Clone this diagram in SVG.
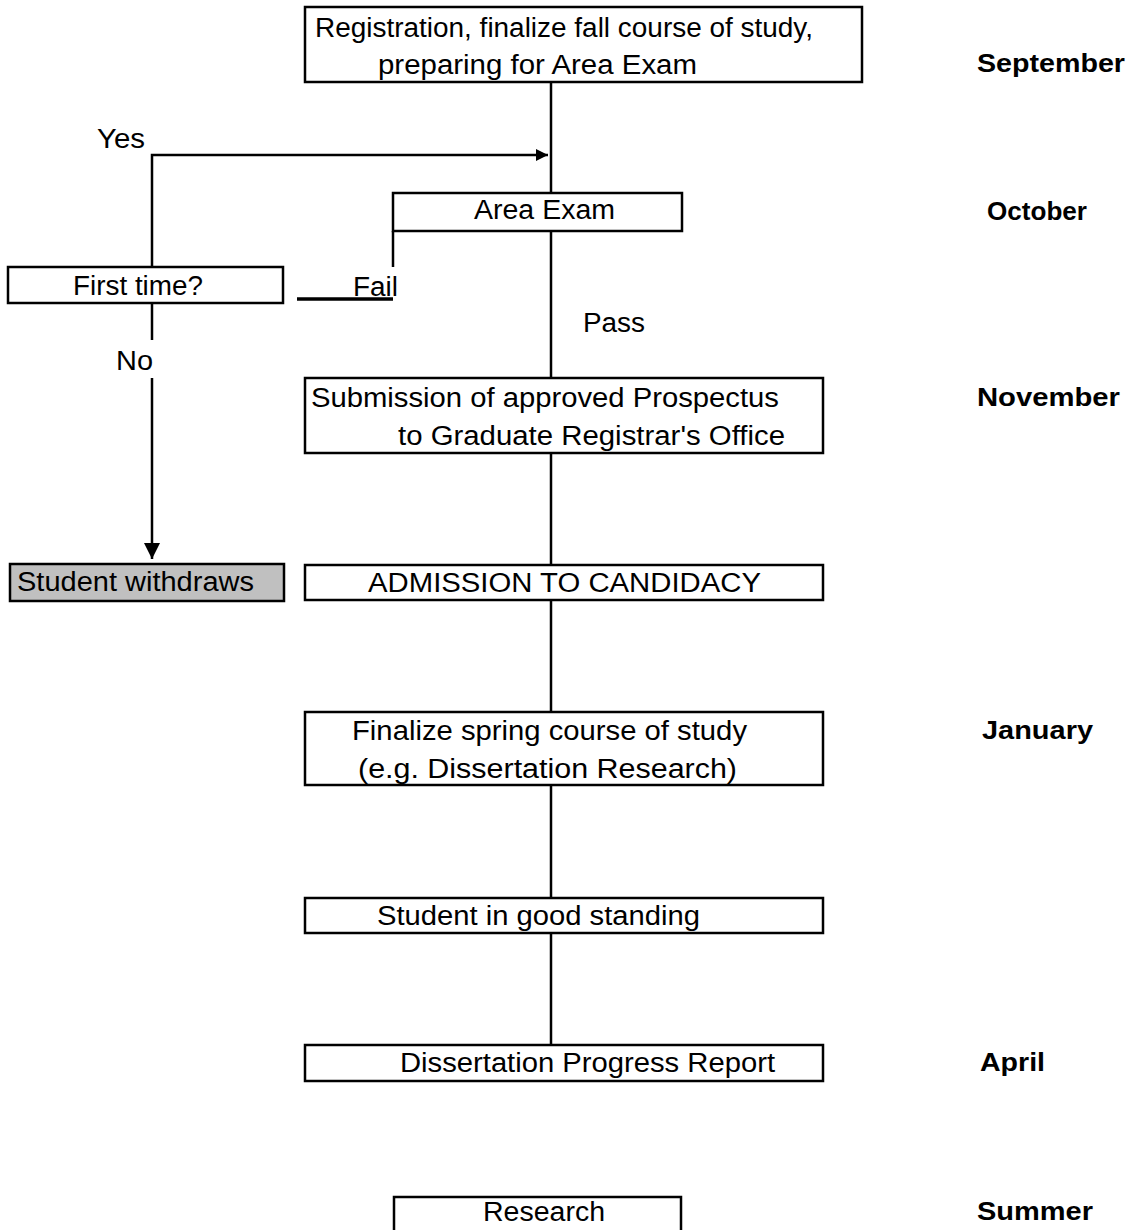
<svg xmlns="http://www.w3.org/2000/svg" width="1135" height="1230" viewBox="0 0 1135 1230">
<defs>
<style>
.box{fill:#fff;stroke:#000;stroke-width:2.5}
.gray{fill:#c0c0c0;stroke:#000;stroke-width:2.5}
.t{font-family:"Liberation Sans",Arial,sans-serif;font-size:27px;fill:#000}
.m{font-family:"Liberation Sans",Arial,sans-serif;font-size:26px;font-weight:bold;fill:#000}
.ln{stroke:#000;stroke-width:2.5;fill:none}
</style>
<marker id="ah" viewBox="0 0 10 10" refX="10" refY="5" markerUnits="userSpaceOnUse" markerWidth="18" markerHeight="12" orient="auto">
<path d="M0,0 L10,5 L0,10 Z" fill="#000"/>
</marker>
<marker id="ad" viewBox="0 0 10 10" refX="10" refY="5" markerUnits="userSpaceOnUse" markerWidth="16" markerHeight="17" orient="auto">
<path d="M0,0 L10,5 L0,10 Z" fill="#000"/>
</marker>
</defs>
<rect width="1135" height="1230" fill="#fff"/>
<g id="connectors">
<line class="ln" x1="551" y1="82" x2="551" y2="193"/>
<line class="ln" x1="551" y1="231" x2="551" y2="378"/>
<line class="ln" x1="551" y1="453" x2="551" y2="565"/>
<line class="ln" x1="551" y1="600" x2="551" y2="712"/>
<line class="ln" x1="551" y1="785" x2="551" y2="898"/>
<line class="ln" x1="551" y1="933" x2="551" y2="1045"/>
<polyline class="ln" points="152,267 152,155 548,155" marker-end="url(#ah)"/>
<line class="ln" x1="393" y1="231" x2="393" y2="267"/>
<line stroke="#000" stroke-width="3.5" x1="297" y1="299" x2="393" y2="299"/>
<line class="ln" x1="152" y1="303" x2="152" y2="340"/>
<line class="ln" x1="152" y1="378" x2="152" y2="559" marker-end="url(#ad)"/>
<text class="t" x="97" y="148" textLength="48" lengthAdjust="spacingAndGlyphs">Yes</text>
<text class="t" x="353" y="296" textLength="45" lengthAdjust="spacingAndGlyphs">Fail</text>
<text class="t" x="583" y="332" textLength="62" lengthAdjust="spacingAndGlyphs">Pass</text>
<text class="t" x="116" y="370" textLength="37" lengthAdjust="spacingAndGlyphs">No</text>
</g>
<g id="n-registration">
<rect class="box" x="305" y="7" width="557" height="75"/>
<text class="t" x="315" y="37" textLength="498" lengthAdjust="spacingAndGlyphs">Registration, finalize fall course of study,</text>
<text class="t" x="378" y="74" textLength="319" lengthAdjust="spacingAndGlyphs">preparing for Area Exam</text>
</g>
<g id="n-areaexam">
<rect class="box" x="393" y="193" width="289" height="38"/>
<text class="t" x="474" y="219" textLength="141" lengthAdjust="spacingAndGlyphs">Area Exam</text>
</g>
<g id="n-firsttime">
<rect class="box" x="8" y="267" width="275" height="36"/>
<text class="t" x="73" y="295" textLength="130" lengthAdjust="spacingAndGlyphs">First time?</text>
</g>
<g id="n-submission">
<rect class="box" x="305" y="378" width="518" height="75"/>
<text class="t" x="311" y="407" textLength="468" lengthAdjust="spacingAndGlyphs">Submission of approved Prospectus</text>
<text class="t" x="398" y="445" textLength="387" lengthAdjust="spacingAndGlyphs">to Graduate Registrar's Office</text>
</g>
<g id="n-withdraws">
<rect class="gray" x="10" y="564" width="274" height="37"/>
<text class="t" x="17" y="591" textLength="237" lengthAdjust="spacingAndGlyphs">Student withdraws</text>
</g>
<g id="n-admission">
<rect class="box" x="305" y="565" width="518" height="35"/>
<text class="t" x="368" y="592" textLength="393" lengthAdjust="spacingAndGlyphs">ADMISSION TO CANDIDACY</text>
</g>
<g id="n-finalize">
<rect class="box" x="305" y="712" width="518" height="73"/>
<text class="t" x="352" y="740" textLength="395" lengthAdjust="spacingAndGlyphs">Finalize spring course of study</text>
<text class="t" x="358" y="778" textLength="379" lengthAdjust="spacingAndGlyphs">(e.g. Dissertation Research)</text>
</g>
<g id="n-goodstanding">
<rect class="box" x="305" y="898" width="518" height="35"/>
<text class="t" x="377" y="925" textLength="323" lengthAdjust="spacingAndGlyphs">Student in good standing</text>
</g>
<g id="n-progress">
<rect class="box" x="305" y="1045" width="518" height="36"/>
<text class="t" x="400" y="1072" textLength="375" lengthAdjust="spacingAndGlyphs">Dissertation Progress Report</text>
</g>
<g id="n-research">
<rect class="box" x="394" y="1197" width="287" height="45"/>
<text class="t" x="483" y="1221" textLength="122" lengthAdjust="spacingAndGlyphs">Research</text>
</g>
<g id="months">
<text class="m" x="977" y="72" textLength="148" lengthAdjust="spacingAndGlyphs">September</text>
<text class="m" x="987" y="220" textLength="100" lengthAdjust="spacingAndGlyphs">October</text>
<text class="m" x="977" y="406" textLength="143" lengthAdjust="spacingAndGlyphs">November</text>
<text class="m" x="982" y="739" textLength="111" lengthAdjust="spacingAndGlyphs">January</text>
<text class="m" x="980" y="1071" textLength="65" lengthAdjust="spacingAndGlyphs">April</text>
<text class="m" x="977" y="1220" textLength="116" lengthAdjust="spacingAndGlyphs">Summer</text>
</g>
</svg>
